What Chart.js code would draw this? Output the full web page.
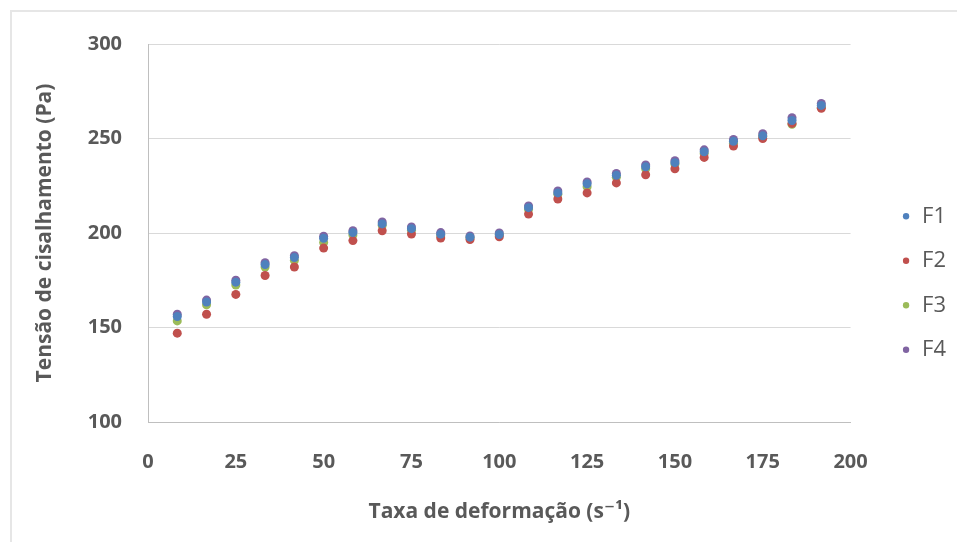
<!DOCTYPE html>
<html>
<head>
<meta charset="utf-8">
<script src="https://cdn.jsdelivr.net/npm/chart.js@4"></script>
<style>
  html, body { margin: 0; padding: 0; background: #fff; }
  #wrap { position: relative; width: 957px; height: 542px; }
  #frame { position: absolute; left: 10px; top: 10px; width: 960px; height: 540px;
           border-top: 2px solid #e6e6e6; border-left: 2px solid #e6e6e6; }
  canvas { position: absolute; left: 0; top: 0; }
</style>
</head>
<body>
<div id="wrap">
  <div id="frame"></div>
  <canvas id="chart" width="957" height="542"></canvas>
</div>
<script>
const rate = [8.33, 16.67, 25, 33.33, 41.67, 50, 58.33, 66.67, 75, 83.33, 91.67, 100,
              108.33, 116.67, 125, 133.33, 141.67, 150, 158.33, 166.67, 175, 183.33, 191.67];

const f1 = [155.8, 163.5, 174, 183.3, 187, 197.2, 200.2, 204.8, 202.3, 199.4, 197.8, 199.2,
            213.4, 221.2, 226, 230.5, 235, 237.2, 243, 248.5, 251.4, 259.5, 267.5];
const f2 = [147, 157, 167.5, 177.5, 182, 192, 196, 201.2, 199.5, 197.3, 196.5, 198,
            210, 218, 221.2, 226.5, 230.8, 234, 240, 246, 250, 258, 266];
const f3 = [153.5, 162, 172.5, 182, 185.5, 195, 199, 204, 201.5, 198.5, 197.5, 199,
            212.5, 220.5, 224.5, 229.5, 234, 236.5, 242, 247.5, 251, 257.5, 266.5];
const f4 = [157, 164.5, 175, 184.3, 188, 198.3, 201.2, 205.8, 203.2, 200.2, 198.4, 200,
            214.3, 222.2, 227, 231.5, 236, 238.2, 244, 249.5, 252.5, 261, 268.5];

const seriesNames = ["F1", "F2", "F3", "F4"];
const seriesColors = ["#4f81bd", "#c0504d", "#9bbb59", "#8064a2"];

const textGray = "#595959";
const font = "'Open Sans', 'DejaVu Sans', sans-serif";

function toPoints(ys) {
  return ys.map((y, i) => ({ x: rate[i], y }));
}

const datasets = [f1, f2, f3, f4].map((ys, i) => ({
  label: seriesNames[i],
  data: toPoints(ys),
  backgroundColor: seriesColors[i],
  borderColor: seriesColors[i],
  pointRadius: 4.5,
  pointBorderWidth: 0,
  showLine: false
}));

// move the legend block to where the original has it
const legendShift = {
  id: "legendShift",
  afterLayout(chart) {
    const lg = chart.legend;
    lg.top -= 10;
    lg.bottom -= 10;
    lg.left += 28;
    lg.right += 28;
  }
};

new Chart(document.getElementById("chart"), {
  type: "scatter",
  data: { datasets },
  plugins: [legendShift],
  options: {
    responsive: false,
    animation: false,
    layout: { padding: { top: 44, right: 29, bottom: 0, left: 0 } },
    plugins: {
      tooltip: { enabled: false },
      legend: {
        position: "right",
        labels: {
          usePointStyle: true,
          pointStyle: "circle",
          boxWidth: 10,
          boxHeight: 4.5,
          padding: 22.5,
          color: textGray,
          font: { family: font, size: 22 }
        }
      }
    },
    scales: {
      x: {
        type: "linear",
        min: 0,
        max: 200,
        ticks: { stepSize: 25, padding: 28, color: textGray, font: { family: font, size: 20, weight: "bold" } },
        grid: { display: false, drawTicks: false },
        border: { display: true, color: "#bfbfbf", width: 1 },
        title: {
          display: true,
          text: "Taxa de deformação (s\u207B\u00B9)",
          color: textGray,
          font: { family: font, size: 21, weight: "bold" },
          padding: { top: 0, bottom: 17 }
        },
        afterFit(scale) { scale.height = 120; }
      },
      y: {
        min: 100,
        max: 300,
        ticks: { stepSize: 50, padding: 26, color: textGray, font: { family: font, size: 20, weight: "bold" } },
        grid: { color: "#d9d9d9", drawTicks: false },
        border: { display: true, color: "#bfbfbf", width: 1 },
        title: {
          display: true,
          text: "Tensão de cisalhamento (Pa)",
          color: textGray,
          font: { family: font, size: 21, weight: "bold" },
          padding: { top: 32, bottom: 0 }
        },
        afterFit(scale) { scale.width = 148; }
      }
    }
  }
});
</script>
</body>
</html>
